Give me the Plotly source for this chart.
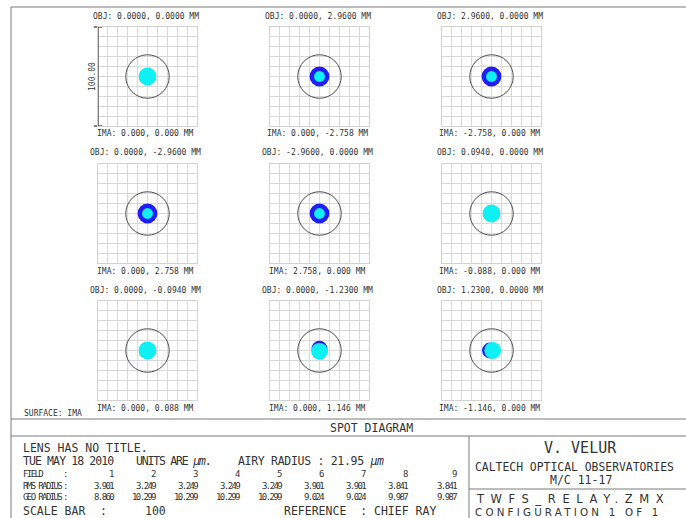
import plotly.graph_objects as go

W, H = 686, 518

# ---------------- data ----------------
obj_labels = ["OBJ: 0.0000, 0.0000 MM", "OBJ: 0.0000, 2.9600 MM", "OBJ: 2.9600, 0.0000 MM",
              "OBJ: 0.0000, -2.9600 MM", "OBJ: -2.9600, 0.0000 MM", "OBJ: 0.0940, 0.0000 MM",
              "OBJ: 0.0000, -0.0940 MM", "OBJ: 0.0000, -1.2300 MM", "OBJ: 1.2300, 0.0000 MM"]
ima_labels = ["IMA: 0.000, 0.000 MM", "IMA: 0.000, -2.758 MM", "IMA: -2.758, 0.000 MM",
              "IMA: 0.000, 2.758 MM", "IMA: 2.758, 0.000 MM", "IMA: -0.088, 0.000 MM",
              "IMA: 0.000, 0.088 MM", "IMA: 0.000, 1.146 MM", "IMA: -1.146, 0.000 MM"]
airy_radius = 21.95          # µm
scale_bar = 100              # µm
# spot footprint per field (µm): blue wavelength and cyan wavelength
blue_dx = [0, 0, 0, 0, 0, 0, 0, 0, -1.5]
blue_dy = [0, 0, 0, 0, 0, 0, 0, 1.8, 0]
blue_r = [8.5, 10.0, 10.0, 10.0, 10.0, 8.5, 8.5, 8.0, 8.0]
cyan_dx = [0, 0, 0, 0, 0, 0, 0, 0, 1.2]
cyan_dy = [0, 0, 0, 0, 0, 0, 0, -0.8, 0]
cyan_r = [9.0, 5.5, 5.5, 5.5, 5.5, 9.0, 9.0, 8.5, 8.5]

fields = ["1", "2", "3", "4", "5", "6", "7", "8", "9"]
rms_radius = ["3.901", "3.249", "3.249", "3.249", "3.249", "3.901", "3.901", "3.841", "3.841"]
geo_radius = ["8.860", "10.299", "10.299", "10.299", "10.299", "9.024", "9.024", "9.987", "9.987"]

# ---------------- layout helpers ----------------
def px(x):
    return x / W

def py(y):
    return 1 - y / H

col_left = [98, 270, 442]
row_top = [27, 164, 301]
SIZE = 99
TXT = "#333333"
MONO = "DejaVu Sans Mono, monospace"
WIDE = "DejaVu Sans, sans-serif"

fig = go.Figure()
layout = dict(width=W, height=H, margin=dict(l=0, r=0, t=0, b=0),
              paper_bgcolor="white", plot_bgcolor="white", showlegend=False)
shapes = []
annotations = []

for i in range(9):
    r, c = divmod(i, 3)
    n = i + 1
    xa = "xaxis" if n == 1 else f"xaxis{n}"
    ya = "yaxis" if n == 1 else f"yaxis{n}"
    xr = "x" if n == 1 else f"x{n}"
    yr = "y" if n == 1 else f"y{n}"
    x0p, x1p = px(col_left[c]), px(col_left[c] + SIZE)
    y0p, y1p = py(row_top[r] + SIZE), py(row_top[r])
    ax = dict(range=[-50, 50], dtick=10, tick0=0, showticklabels=False, ticks="",
              showgrid=True, gridcolor="#d9d9d9", gridwidth=1, zeroline=False,
              showline=True, linecolor="#d2d2d2", linewidth=1, mirror=True, fixedrange=True)
    layout[xa] = dict(ax, domain=[x0p, x1p], anchor=yr)
    layout[ya] = dict(ax, domain=[y0p, y1p], anchor=xr)
    fig.add_trace(go.Scatter(x=[0], y=[0], xaxis=xr, yaxis=yr, mode="markers",
                             marker=dict(size=1, color="rgba(0,0,0,0)"), hoverinfo="skip"))
    shapes.append(dict(type="circle", xref=xr, yref=yr,
                       x0=blue_dx[i] - blue_r[i], x1=blue_dx[i] + blue_r[i],
                       y0=blue_dy[i] - blue_r[i], y1=blue_dy[i] + blue_r[i],
                       fillcolor="#1e1ef5", line=dict(width=0), layer="above"))
    shapes.append(dict(type="circle", xref=xr, yref=yr,
                       x0=cyan_dx[i] - cyan_r[i], x1=cyan_dx[i] + cyan_r[i],
                       y0=cyan_dy[i] - cyan_r[i], y1=cyan_dy[i] + cyan_r[i],
                       fillcolor="#0ff0f5", line=dict(width=0), layer="above"))
    shapes.append(dict(type="circle", xref=xr, yref=yr,
                       x0=-airy_radius, x1=airy_radius, y0=-airy_radius, y1=airy_radius,
                       line=dict(color="#4a4a4a", width=1), layer="above"))
    cx = col_left[c] + SIZE / 2 - 2
    annotations.append(dict(text=obj_labels[i], x=px(cx), y=py(row_top[r] - 11),
                            xref="paper", yref="paper", showarrow=False,
                            xanchor="center", yanchor="middle",
                            font=dict(family=MONO, size=8, color=TXT)))
    annotations.append(dict(text=ima_labels[i], x=px(cx), y=py(row_top[r] + SIZE + 8),
                            xref="paper", yref="paper", showarrow=False,
                            xanchor="center", yanchor="middle",
                            font=dict(family=MONO, size=8, color=TXT)))

# scale bar on first panel
fig.add_trace(go.Scatter(x=[-50, -50], y=[-scale_bar / 2, scale_bar / 2], xaxis="x", yaxis="y",
                         mode="lines+markers", cliponaxis=False, hoverinfo="skip",
                         line=dict(color="#555555", width=1.5),
                         marker=dict(symbol="line-ew", size=6, line=dict(width=1.5, color="#555555"))))
annotations.append(dict(text=f"{scale_bar:.2f}", x=px(92), y=py(77), xref="paper", yref="paper",
                        showarrow=False, textangle=-90, xanchor="center", yanchor="middle",
                        font=dict(family=MONO, size=8, color=TXT)))

# ---------------- frame ----------------
LC = "#7a7a7a"
def pline(x0, y0, x1, y1):
    shapes.append(dict(type="line", xref="paper", yref="paper",
                       x0=px(x0), y0=py(y0), x1=px(x1), y1=py(y1),
                       line=dict(color=LC, width=1)))

pline(11, 7, 686, 7)
pline(11, 7, 11, 518)
pline(11, 419, 686, 419)
pline(11, 436, 686, 436)
pline(469, 436, 469, 518)
pline(469, 489, 686, 489)

def text(t, x, y, size, family=MONO, anchor="left", ls=None):
    if ls is not None:
        t = f'<span style="letter-spacing:{ls}px">{t}</span>'
    annotations.append(dict(text=t, x=px(x), y=py(y), xref="paper", yref="paper", showarrow=False,
                            xanchor=anchor, yanchor="middle",
                            font=dict(family=family, size=size, color=TXT)))

text("SURFACE: IMA", 22, 413, 8)
text("SPOT DIAGRAM", 371, 428, 11.5, anchor="center")
text("LENS HAS NO TITLE.", 21, 448, 11.5)
text("TUE MAY 18 2010", 21, 461, 11.5, ls=-0.9)
text("UNITS ARE <i>µm</i>.", 134, 461, 11.5, ls=-1.2)
text("AIRY RADIUS : 21.95 <i>µm</i>", 236, 461, 11.5, ls=-0.3)

row_y = [474, 486, 497]
SM = 9
SLS = -1.6
for lab, yy in zip(["FIELD", "RMS RADIUS", "GEO RADIUS"], row_y):
    text(lab, 21, yy, SM, ls=SLS)
    text(":", 61, yy, SM, ls=SLS)
col_right = [116, 158, 200, 242, 284, 326, 368, 410, 459]
for j in range(9):
    text(fields[j], col_right[j], row_y[0], SM, anchor="right", ls=SLS)
    text(rms_radius[j], col_right[j], row_y[1], SM, anchor="right", ls=SLS)
    text(geo_radius[j], col_right[j], row_y[2], SM, anchor="right", ls=SLS)

text("SCALE BAR", 21, 511, 11.5)
text(":", 98, 511, 11.5)
text(f"{scale_bar}", 155, 511, 11.5, anchor="center")
text("REFERENCE  : CHIEF RAY", 282, 511, 11.5)

text("V. VELUR", 580, 448, 15, anchor="center")
text("CALTECH OPTICAL OBSERVATORIES", 473, 467, 11.4)
text("M/C 11-17", 581, 479.5, 11.5, anchor="center")
text("TWFS_RELAY.ZMX", 474, 499, 11.5, family=WIDE, ls=6.6)
text("CONFIGURATION 1 OF 1", 473, 511.5, 10.3, family=WIDE, ls=3.2)

layout["shapes"] = shapes
layout["annotations"] = annotations
fig.update_layout(**layout)
fig.write_html("out.html")
